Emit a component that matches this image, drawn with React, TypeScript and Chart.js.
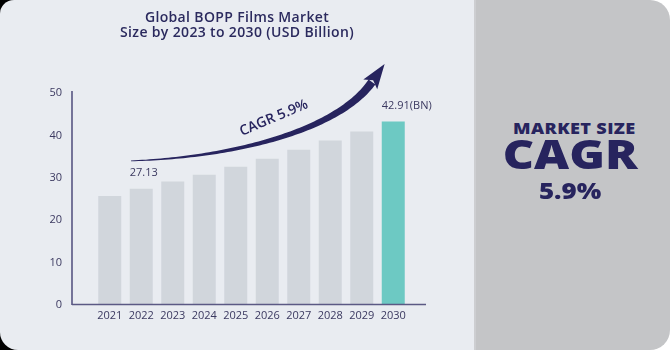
import React, { useEffect, useRef } from "react";
import { Chart, registerables } from "chart.js";

Chart.register(...registerables);

const categories = ["2021", "2022", "2023", "2024", "2025", "2026", "2027", "2028", "2029", "2030"];
const marketSize = [25.7, 27.4, 29.1, 30.7, 32.6, 34.5, 36.6, 38.8, 40.9, 43.3];
const labelledYears = ["2022", "2030"];
const labelTexts = ["27.13", "42.91(BN)"];
const yTickValues = [0, 10, 20, 30, 40, 50];
const titleLines = ["Global BOPP Films Market", "Size by 2023 to 2030 (USD Billion)"];
const cagrText = "CAGR 5.9%";
const sideLines = ["MARKET SIZE", "CAGR", "5.9%"];

const NAVY = "#27245e";
const GRAY_BAR = "#d1d6dc";
const TEAL = "#6dc9c3";
const FONT = "'Open Sans', 'DejaVu Sans', sans-serif";

const overlayPlugin = {
  id: "overlay",
  afterDatasetsDraw(chart: any) {
    const { ctx, chartArea, scales } = chart;
    const xs = scales.x;
    const ys = scales.y;
    ctx.save();
    // axis lines
    ctx.strokeStyle = NAVY;
    ctx.lineWidth = 1.2;
    ctx.beginPath();
    ctx.moveTo(chartArea.left - 22, chartArea.top - 2);
    ctx.lineTo(chartArea.left - 22, chartArea.bottom);
    ctx.stroke();
    ctx.strokeStyle = "#5b5984";
    ctx.lineWidth = 1.5;
    ctx.beginPath();
    ctx.moveTo(chartArea.left - 22, chartArea.bottom - 0.5);
    ctx.lineTo(chartArea.right + 17, chartArea.bottom - 0.5);
    ctx.stroke();

    // value labels
    const meta = chart.getDatasetMeta(0);
    ctx.fillStyle = "#3b3960";
    ctx.font = `11px ${FONT}`;
    ctx.textAlign = "left";
    ctx.textBaseline = "middle";
    labelledYears.forEach((yr, k) => {
      const idx = categories.indexOf(yr);
      const bar = meta.data[idx];
      const left = bar.x - bar.width / 2;
      ctx.fillText(labelTexts[k], left, bar.y - 15.5);
    });

    // CAGR arrow
    const P = (i: number, v: number) => ({ x: xs.getPixelForValue(i), y: ys.getPixelForValue(v) });
    const p0 = P(0.675, 34.0);
    const c1 = P(3.82, 34.7);
    const c2 = P(7.23, 41.0);
    const p3 = P(8.325, 52.6);
    const bez = (t: number) => {
      const u = 1 - t;
      return {
        x: u * u * u * p0.x + 3 * u * u * t * c1.x + 3 * u * t * t * c2.x + t * t * t * p3.x,
        y: u * u * u * p0.y + 3 * u * u * t * c1.y + 3 * u * t * t * c2.y + t * t * t * p3.y,
      };
    };
    const N = 80;
    const upper: any[] = [];
    const lower: any[] = [];
    for (let s = 0; s <= N; s++) {
      const t = s / N;
      const a = bez(Math.max(0, t - 0.005));
      const b = bez(Math.min(1, t + 0.005));
      let dx = b.x - a.x, dy = b.y - a.y;
      const len = Math.hypot(dx, dy) || 1;
      dx /= len; dy /= len;
      const nx = -dy, ny = dx;
      const w = 0.4 + 3.8 * Math.pow(t, 1.0);
      const p = bez(t);
      upper.push({ x: p.x + nx * w, y: p.y + ny * w });
      lower.push({ x: p.x - nx * w, y: p.y - ny * w });
    }
    ctx.fillStyle = NAVY;
    ctx.beginPath();
    ctx.moveTo(upper[0].x, upper[0].y);
    upper.forEach((p) => ctx.lineTo(p.x, p.y));
    for (let s = lower.length - 1; s >= 0; s--) ctx.lineTo(lower[s].x, lower[s].y);
    ctx.closePath();
    ctx.fill();
    // head
    let dx = p3.x - c2.x, dy = p3.y - c2.y;
    const dl = Math.hypot(dx, dy);
    dx /= dl; dy /= dl;
    const nx = -dy, ny = dx;
    const tip = { x: p3.x + dx * 22, y: p3.y + dy * 22 };
    ctx.beginPath();
    ctx.moveTo(tip.x, tip.y);
    ctx.lineTo(p3.x - dx * 3 + nx * 8.5, p3.y - dy * 3 + ny * 8.5);
    ctx.lineTo(p3.x + dx * 2, p3.y + dy * 2);
    ctx.lineTo(p3.x - dx * 3 - nx * 8.5, p3.y - dy * 3 - ny * 8.5);
    ctx.closePath();
    ctx.fill();

    // CAGR text
    const tc = P(5.21, 44.1);
    ctx.translate(tc.x, tc.y);
    ctx.rotate((-23 * Math.PI) / 180);
    ctx.font = `600 14px ${FONT}`;
    ctx.textAlign = "center";
    ctx.textBaseline = "middle";
    ctx.fillStyle = NAVY;
    ctx.fillText(cagrText, 0, 0);
    ctx.restore();
  },
};

export default function App() {
  const canvasRef = useRef<HTMLCanvasElement | null>(null);

  useEffect(() => {
    document.body.style.margin = "0";
    const canvas = canvasRef.current;
    if (!canvas) return;
    const last = categories.length - 1;
    const chart = new Chart(canvas, {
      type: "bar",
      data: {
        labels: categories,
        datasets: [
          {
            data: marketSize,
            backgroundColor: (c: any) => (c.dataIndex === last ? TEAL : GRAY_BAR),
            borderWidth: 0,
            barPercentage: 0.73,
            categoryPercentage: 1,
          },
        ],
      },
      options: {
        responsive: false,
        animation: false,
        devicePixelRatio: 1,
        layout: { padding: { top: 93, right: 65, left: 0, bottom: 0 } },
        plugins: { legend: { display: false }, tooltip: { enabled: false }, title: { display: false } },
        scales: {
          x: {
            grid: { display: false, drawTicks: false },
            border: { display: false },
            ticks: { padding: 4, color: "#3b3960", font: { family: FONT, size: 11 }, maxRotation: 0, autoSkip: false },
            afterFit: (s: any) => {
              s.height = 45;
            },
          },
          y: {
            min: 0,
            max: 50,
            afterBuildTicks: (s: any) => {
              s.ticks = yTickValues.map((v) => ({ value: v }));
            },
            grid: { display: false, drawTicks: false },
            border: { display: false },
            ticks: { padding: 32, color: "#3b3960", font: { family: FONT, size: 11 } },
            afterFit: (s: any) => {
              s.width = 94;
            },
          },
        },
      },
      plugins: [overlayPlugin],
    } as any);
    return () => chart.destroy();
  }, []);

  return (
    <div
      style={{
        position: "absolute",
        left: 0,
        top: 0,
        width: 670,
        height: 350,
        background: "linear-gradient(to right, #000 0, #000 50%, #fff 50%, #fff 100%)",
        fontFamily: FONT,
      }}
    >
      <div
        style={{
          position: "absolute",
          left: 0,
          top: 0,
          width: 474,
          height: 350,
          background: "#e9ecf1",
          borderRadius: "14px 0 0 18px",
          overflow: "hidden",
        }}
      >
        <canvas ref={canvasRef} width={474} height={350} style={{ position: "absolute", left: 0, top: 0 }} />
        <div
          style={{
            position: "absolute",
            left: 0,
            top: 8.5,
            width: 474,
            textAlign: "center",
            fontSize: 14,
            lineHeight: "15px",
            fontWeight: 600,
            letterSpacing: 0.35,
            color: "#2b2a5e",
          }}
        >
          {titleLines.map((l) => (
            <div key={l}>{l}</div>
          ))}
        </div>
      </div>
      <div
        style={{
          position: "absolute",
          left: 474,
          top: 0,
          width: 196,
          height: 350,
          boxSizing: "border-box",
          background: "#c4c5c7",
          borderLeft: "2px solid #cdced1",
          borderRadius: "0 20px 20px 0",
          color: NAVY,
        }}
      >
        <div style={{ position: "absolute", left: 0, width: 196, top: 120, textAlign: "center", fontSize: 15.5, lineHeight: "16px", fontWeight: 800 }}>
          <span style={{ display: "inline-block", transform: "scaleX(1.17)", letterSpacing: 0.3 }}>{sideLines[0]}</span>
        </div>
        <div style={{ position: "absolute", left: -4, width: 196, top: 133, textAlign: "center", fontSize: 41, lineHeight: "41px", fontWeight: 800 }}>
          <span style={{ display: "inline-block", transform: "scaleX(1.18)" }}>{sideLines[1]}</span>
        </div>
        <div style={{ position: "absolute", left: -4, width: 196, top: 179, textAlign: "center", fontSize: 22.5, lineHeight: "23px", fontWeight: 800 }}>
          <span style={{ display: "inline-block", transform: "scaleX(1.15)" }}>{sideLines[2]}</span>
        </div>
      </div>
    </div>
  );
}
